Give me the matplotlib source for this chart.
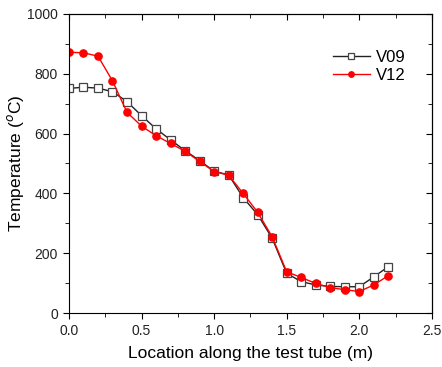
import matplotlib
matplotlib.use("Agg")
import matplotlib.pyplot as plt
from matplotlib.ticker import MultipleLocator

plt.rcParams['font.family'] = ['Liberation Sans', 'DejaVu Sans']

# posicoes ao longo do tubo (m)
local = [0.0, 0.1, 0.2, 0.3, 0.4, 0.5, 0.6, 0.7, 0.8, 0.9, 1.0, 1.1,
         1.2, 1.3, 1.4, 1.5, 1.6, 1.7, 1.8, 1.9, 2.0, 2.1, 2.2]

v09 = [751, 755, 752, 740, 707, 660, 616, 579, 543, 510, 474, 462,
       386, 329, 250, 133, 105, 94, 89, 88, 88, 121, 155]
v12 = [872, 870, 859, 776, 671, 625, 593, 567, 541, 507, 473, 461,
       400, 337, 255, 138, 119, 99, 85, 78, 72, 94, 125]

fig = plt.figure(figsize=(4.42, 3.67), dpi=100)
ax = fig.add_axes([0.156, 0.147, 0.821, 0.815])

ax.plot(local, v09, '-s', color='#222222', lw=1.0, ms=5.2,
        mfc='white', mec='#444444', mew=0.9, label='V09')
ax.plot(local, v12, '-o', color='red', lw=1.0, ms=5.2,
        mfc='red', mec='red', label='V12')

ax.set_xlim(0, 2.5)
ax.set_ylim(0, 1000)

# eixos de baixo/esquerda com ticks para fora, topo/direita para dentro (estilo Origin)
ax.xaxis.set_major_locator(MultipleLocator(0.5))
ax.xaxis.set_minor_locator(MultipleLocator(0.25))
ax.yaxis.set_major_locator(MultipleLocator(200))
ax.yaxis.set_minor_locator(MultipleLocator(100))
ax.tick_params(which='both', direction='out', labelsize=10, labelcolor='#222222')
ax.tick_params(which='major', length=4.5)
ax.tick_params(which='minor', length=3)

topo = ax.secondary_xaxis('top')
topo.xaxis.set_major_locator(MultipleLocator(0.5))
topo.xaxis.set_minor_locator(MultipleLocator(0.25))
topo.tick_params(which='both', direction='in', labeltop=False)
topo.tick_params(which='major', length=4.5)
topo.tick_params(which='minor', length=3)

dir_ = ax.secondary_yaxis('right')
dir_.yaxis.set_major_locator(MultipleLocator(200))
dir_.yaxis.set_minor_locator(MultipleLocator(100))
dir_.tick_params(which='both', direction='in', labelright=False)
dir_.tick_params(which='major', length=4.5)
dir_.tick_params(which='minor', length=3)

ax.set_xlabel('Location along the test tube (m)', fontsize=12.5, labelpad=6)
ax.set_ylabel('Temperature ($^{o}$C)', fontsize=12.5, labelpad=1)

ax.legend(loc='upper right', bbox_to_anchor=(0.97, 0.93), frameon=False,
          fontsize=12, handlelength=2.2, handletextpad=0.4, labelspacing=0.2,
          markerscale=0.75)

fig.savefig('out.png', dpi=100)
